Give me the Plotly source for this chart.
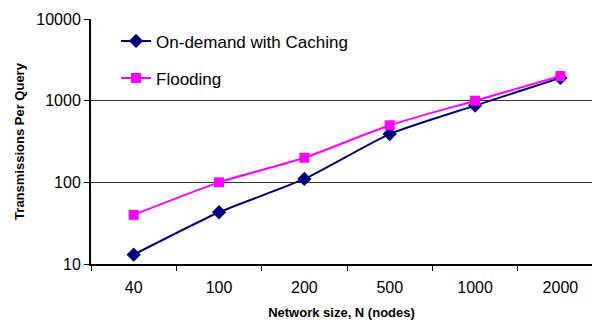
import plotly.graph_objects as go

# Network sizes (categories) and transmissions per query for each scheme
network_sizes = ["40", "100", "200", "500", "1000", "2000"]
on_demand_caching = [13, 43, 110, 390, 870, 1900]
flooding = [40, 100, 200, 500, 1000, 2000]

y_ticks = [10, 100, 1000, 10000]

FONT = "Liberation Sans"

fig = go.Figure()

fig.add_trace(go.Scatter(
    x=network_sizes, y=on_demand_caching,
    name="On-demand with Caching",
    mode="lines+markers",
    line=dict(color="#000080", width=2, shape="spline", smoothing=0.6),
    marker=dict(symbol="diamond", size=11, color="#000080"),
    legendgroup="a",
))
fig.add_trace(go.Scatter(
    x=network_sizes, y=flooding,
    name="Flooding",
    mode="lines+markers",
    line=dict(color="#FF00FF", width=2, shape="spline", smoothing=0.6),
    marker=dict(symbol="square", size=10, color="#FF00FF"),
    legendgroup="b",
))

fig.update_layout(
    width=592, height=320,
    margin=dict(l=91, r=0, t=19, b=56),
    paper_bgcolor="white", plot_bgcolor="white",
    font=dict(family=FONT, color="black", size=16),
    showlegend=True,
    legend=dict(
        x=0.05, y=0.982, xanchor="left", yanchor="top",
        bgcolor="rgba(0,0,0,0)",
        font=dict(family=FONT, size=17, color="black"),
        tracegroupgap=12,
        itemwidth=30,
    ),
)

fig.update_xaxes(
    type="category",
    range=[-0.5, 5.37],
    tickson="boundaries",
    ticks="outside", ticklen=5, tickwidth=1, tickcolor="black",
    ticklabelstandoff=8,
    showline=True, linecolor="black", linewidth=2,
    showgrid=False,
    tickfont=dict(family=FONT, size=16, color="black"),
    title=dict(text="<b>Network size, N (nodes)</b>",
               font=dict(family=FONT, size=13, color="black"), standoff=15),
)

fig.update_yaxes(
    type="log",
    range=[1, 4],
    tickvals=y_ticks,
    ticktext=[str(v) for v in y_ticks],
    ticks="outside", ticklen=5, tickwidth=1, tickcolor="black",
    showline=True, linecolor="black", linewidth=2,
    showgrid=True, gridcolor="#333333", gridwidth=1,
    zeroline=False,
    tickfont=dict(family=FONT, size=16, color="black"),
    title=dict(text="<b>Transmissions Per Query</b>",
               font=dict(family=FONT, size=13, color="black"), standoff=9),
)

fig.write_html("out.html")
